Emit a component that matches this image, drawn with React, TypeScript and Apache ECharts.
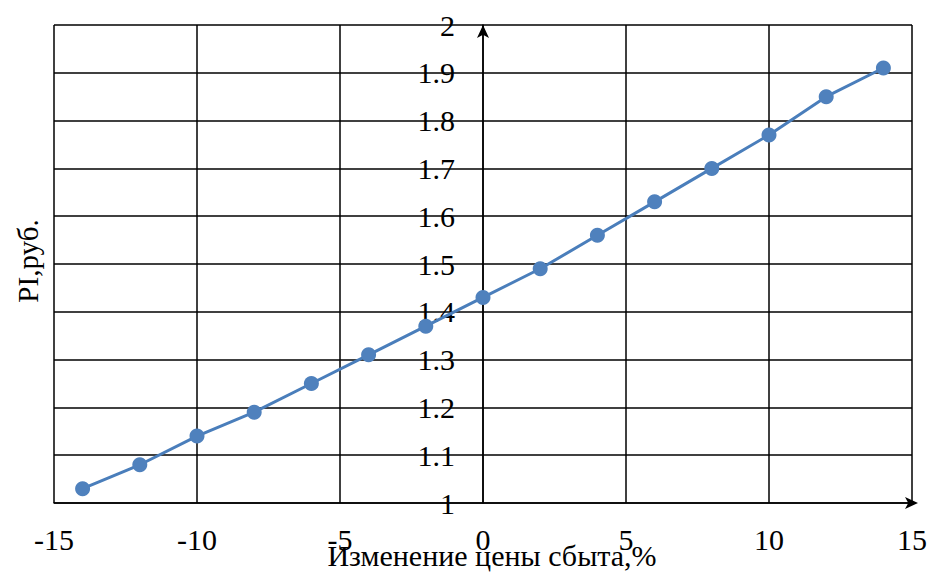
import React, { useEffect, useRef } from "react";
import * as echarts from "echarts";

const xValues = [-14, -12, -10, -8, -6, -4, -2, 0, 2, 4, 6, 8, 10, 12, 14];
const piValues = [1.03, 1.08, 1.14, 1.19, 1.25, 1.31, 1.37, 1.43, 1.49, 1.56, 1.63, 1.7, 1.77, 1.85, 1.91];
const xAxisTitle = "Изменение цены сбыта,%";
const yAxisTitle = "PI,руб.";

const FONT = "Liberation Serif";

export default function App() {
  const ref = useRef<HTMLDivElement>(null);
  useEffect(() => {
    if (!ref.current) return;
    const chart = echarts.init(ref.current, undefined, { renderer: "svg" });
    chart.setOption({
      animation: false,
      backgroundColor: "#ffffff",
      textStyle: { fontFamily: FONT },
      grid: { left: 54, top: 25, right: 17, bottom: 69, containLabel: false, outerBoundsMode: "none" },
      xAxis: {
        type: "value",
        min: -15,
        max: 15,
        interval: 5,
        name: xAxisTitle,
        nameLocation: "middle",
        nameGap: 37,
        nameMoveOverlap: false,
        nameTextStyle: { fontFamily: FONT, fontSize: 30, color: "#000", padding: [0, 0, 0, 18] },
        axisLine: { show: true, onZero: false, symbol: ["none", "arrow"], symbolSize: [9, 13], symbolOffset: [0, 6], lineStyle: { color: "#000", width: 1.5 } },
        axisTick: { show: false },
        axisLabel: { fontFamily: FONT, fontSize: 30, color: "#000", margin: 21 },
        splitLine: { show: true, lineStyle: { color: "#000", width: 1.5 } },
      },
      yAxis: {
        type: "value",
        min: 1,
        max: 2,
        interval: 0.1,
        axisLine: { show: true, onZero: true, symbol: ["none", "arrow"], symbolSize: [9, 13], symbolOffset: [0, 0], lineStyle: { color: "#000", width: 1.5 } },
        axisTick: { show: false },
        axisLabel: {
          fontFamily: FONT,
          fontSize: 30,
          color: "#000",
          margin: -401,
          formatter: (v: number) => String(Math.round(v * 10) / 10),
        },
        splitLine: { show: true, lineStyle: { color: "#000", width: 1.5 } },
      },
      graphic: [
        {
          type: "text",
          x: 28,
          y: 261,
          rotation: Math.PI / 2,
          style: { text: yAxisTitle, fontFamily: FONT, fontSize: 29, fill: "#000", align: "center", verticalAlign: "middle" },
        },
      ],
      series: [
        {
          type: "line",
          data: xValues.map((x, i) => [x, piValues[i]]),
          symbol: "circle",
          symbolSize: 15,
          lineStyle: { color: "#4a7ebb", width: 3 },
          itemStyle: { color: "#4f81bd" },
        },
      ],
    });
    return () => chart.dispose();
  }, []);
  return <div ref={ref} style={{ position: "fixed", left: 0, top: 0, width: 929, height: 572 }} />;
}
